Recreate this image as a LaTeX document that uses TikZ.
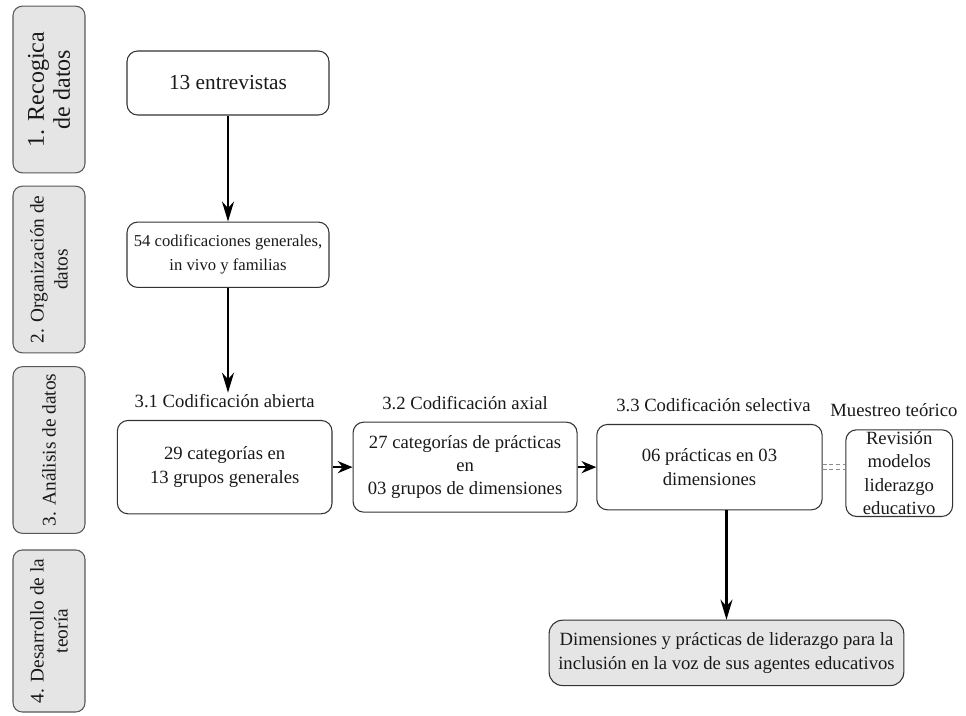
\documentclass[tikz,border=0pt]{standalone}
\usepackage{fontspec}
\setmainfont{Liberation Serif}
\usepackage{tikz}
\usetikzlibrary{arrows.meta, positioning}
\tikzstyle{stage}   = [rectangle, rounded corners=7pt, rotate=90, minimum width=125pt, minimum height=54pt, align=center, draw=black!65, fill=black!10, line width=0.8pt, text=black!90, font=\fontsize{14.5}{18}\selectfont]
\tikzstyle{process} = [rectangle, rounded corners=8pt, align=center, draw=black!80, line width=0.8pt, text=black!90, font=\fontsize{14}{17.5}\selectfont]
\tikzstyle{result}  = [process, fill=black!10, rounded corners=10pt]
\tikzstyle{phase}   = [inner sep=1pt, text=black!90, font=\fontsize{14}{17}\selectfont]
\tikzstyle{arrow}   = [line width=1.8pt, ->, >={Stealth[length=15pt,width=9pt]}]
\begin{document}
\begin{tikzpicture}[x=0.75pt, y=-0.75pt,
    short/.style={arrow, >={Stealth[length=11pt,width=9pt]}}]

  \useasboundingbox (0,0) rectangle (966,715);

  % stages
  \node[stage, font=\fontsize{18}{19.5}\selectfont] (s1) at (49,89.5) {1. Recogica\\de datos};
  \node[stage] (s2) at (49,269.5) {2. Organización de\\datos};
  \node[stage] (s3) at (49,450) {3. Análisis de datos};
  \node[stage, minimum width=121.5pt] (s4) at (49,631) {4. Desarrollo de la\\teoría};

  % flow
  \node[process, minimum width=151.5pt, minimum height=48pt, font=\fontsize{16}{19}\selectfont] (ent) at (228,83) {13 entrevistas};
  \node[process, below=79.5pt of ent, minimum width=151.5pt, minimum height=49pt, font=\fontsize{12.5}{18}\selectfont] (cod) {54 codificaciones generales,\\in vivo y familias};
  \node[process, below=99pt of cod, xshift=-2.5pt, minimum width=161pt, minimum height=70pt] (n31) {29 categorías en\\13 grupos generales};
  \node[process, right=15pt of n31, minimum width=168pt, minimum height=67.5pt] (n32) {27 categorías de prácticas\\en\\03 grupos de dimensiones};
  \node[process, right=14pt of n32, minimum width=169pt, minimum height=64pt] (n33) {06 prácticas en 03\\dimensiones};
  \node[process, right=17pt of n33, yshift=-4.5pt, minimum width=80pt, minimum height=65pt, inner sep=0pt] (rev) {Revisión\\modelos\\liderazgo\\educativo};
  \node[result, below=82pt of n33, xshift=12.75pt, minimum width=266pt, minimum height=49pt] (fin) {Dimensiones y prácticas de liderazgo para la\\inclusión en la voz de sus agentes educativos};

  % labels
  \node[phase, above=8pt of n31] (l31) {3.1 Codificación abierta};
  \node[phase, above=8pt of n32] (l32) {3.2 Codificación axial};
  \node[phase, above=8pt of n33, xshift=3pt] (l33) {3.3 Codificación selectiva};
  \node[phase, above=8pt of rev, xshift=-4pt] (lmu) {Muestreo teórico};

  % arrows
  \draw[arrow] (ent) -- (cod);
  \draw[arrow] (cod.south) -- (cod.south |- l31.north);
  \draw[short] (n31) -- (n32);
  \draw[short] (n32) -- (n33);
  \draw[arrow] (n33.south -| fin.north) -- (fin);
  \draw[black!45, double, double distance=3.5pt, densely dashed, line width=0.6pt] (n33.east) -- (n33.east -| rev.west);
\end{tikzpicture}
\end{document}
